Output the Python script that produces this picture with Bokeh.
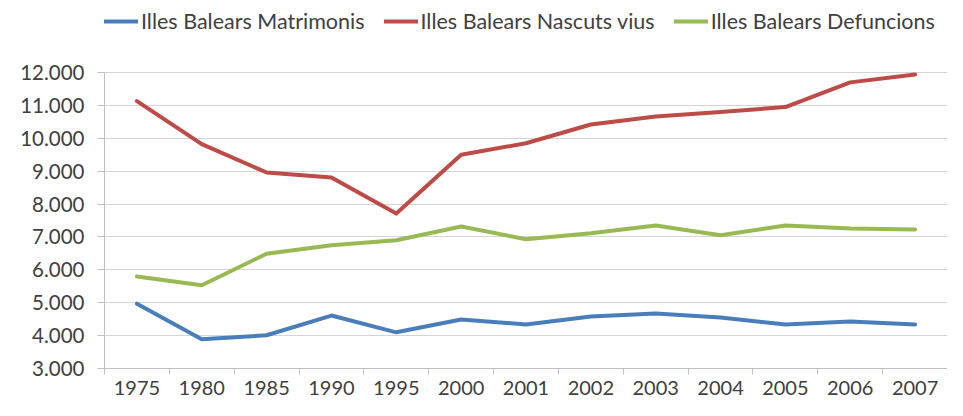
from bokeh.plotting import figure
from bokeh.models import FixedTicker, Legend, LegendItem, Range1d
from bokeh.embed import file_html
from bokeh.resources import INLINE

years = ["1975", "1980", "1985", "1990", "1995", "2000", "2001", "2002",
         "2003", "2004", "2005", "2006", "2007"]
matrimonis = [4970, 3890, 4010, 4610, 4100, 4490, 4340, 4580, 4670, 4550, 4340, 4430, 4340]
nascuts = [11130, 9820, 8960, 8810, 7710, 9500, 9850, 10420, 10660, 10800, 10950, 11700, 11940]
defuncions = [5800, 5530, 6490, 6750, 6900, 7320, 6930, 7110, 7350, 7050, 7350, 7260, 7230]
series_names = ["Illes Balears Matrimonis", "Illes Balears Nascuts vius", "Illes Balears Defuncions"]
colors = ["#4a7ebb", "#be4b48", "#98b954"]
y_ticks = [3000, 4000, 5000, 6000, 7000, 8000, 9000, 10000, 11000, 12000]

FONT = "Lato"
TXT = "#404040"

n = len(years)
xs = [i + 0.5 for i in range(n)]

# layout (screen px)
W, H = 947, 400
TOP, BOTTOM = 4, 32          # frame borders
GRID_TOP_PX = 68             # distance from frame top to the 12000 gridline
frame_h = H - TOP - BOTTOM
y_lo, y_hi = min(y_ticks), max(y_ticks)
y_top = y_hi + GRID_TOP_PX * (y_hi - y_lo) / (frame_h - GRID_TOP_PX)

p = figure(width=W, height=H, output_backend="svg", toolbar_location=None,
           x_range=Range1d(0, n), y_range=Range1d(y_lo, y_top),
           min_border_left=104, min_border_right=0, min_border_top=TOP,
           min_border_bottom=BOTTOM)
p.outline_line_color = None
p.background_fill_color = "white"

renderers = []
for vals, c in zip([matrimonis, nascuts, defuncions], colors):
    r = p.line(xs, vals, line_color=c, line_width=4, line_join="round", line_cap="round")
    renderers.append(r)

# x axis
xa = p.xaxis[0]
xa.ticker = FixedTicker(ticks=xs, minor_ticks=list(range(n + 1)))
xa.major_label_overrides = {x: y for x, y in zip(xs, years)}
xa.major_tick_out = 0
xa.major_tick_in = 0
xa.minor_tick_out = 6
xa.minor_tick_in = 0
xa.minor_tick_line_color = "#bfbfbf"
xa.axis_line_color = "#bfbfbf"
xa.axis_line_width = 1
xa.major_label_text_font = FONT
xa.major_label_text_font_size = "20px"
xa.major_label_text_color = TXT
xa.major_label_standoff = 6

# y axis
ya = p.yaxis[0]
ya.ticker = FixedTicker(ticks=y_ticks)
ya.bounds = (y_lo, y_hi)
ya.major_label_overrides = {v: f"{v:,}".replace(",", ".") for v in y_ticks}
ya.major_tick_out = 7
ya.major_tick_in = 0
ya.minor_tick_out = 0
ya.minor_tick_in = 0
ya.major_tick_line_color = "#bfbfbf"
ya.axis_line_color = "#bfbfbf"
ya.major_label_text_font = FONT
ya.major_label_text_font_size = "20.5px"
ya.major_label_text_color = TXT
ya.major_label_standoff = 13

p.xgrid.grid_line_color = None
p.ygrid.ticker = FixedTicker(ticks=y_ticks)
p.ygrid.grid_line_color = "#d4d4d4"
p.ygrid.grid_line_width = 1

legend = Legend(items=[LegendItem(label=nm, renderers=[r]) for nm, r in zip(series_names, renderers)],
                orientation="horizontal", location=(0, frame_h - 30),
                label_text_font=FONT, label_text_font_size="21.5px", label_text_color=TXT,
                glyph_width=34, glyph_height=22, label_standoff=3, spacing=19,
                padding=0, margin=0, border_line_color=None, background_fill_alpha=0)
p.add_layout(legend, "center")

open("out.html", "w").write(file_html(p, INLINE))
